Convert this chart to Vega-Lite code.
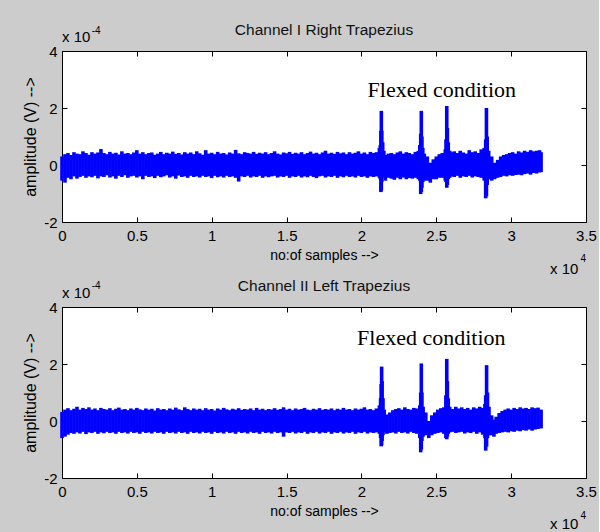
{
  "$schema": "https://vega.github.io/schema/vega-lite/v6.json",
  "background": "#cccccc",
  "padding": {"left": 22, "top": 22, "right": 2, "bottom": 2},
  "config": {
    "view": {"stroke": "#000000", "strokeWidth": 1, "fill": "#ffffff"},
    "font": "Liberation Sans",
    "axis": {"domain": false, "grid": false, "tickColor": "#000000", "tickSize": -5, "tickWidth": 1, "labelColor": "#000000", "labelFont": "Liberation Sans", "labelFontSize": 15, "titleFont": "Liberation Sans", "titleFontWeight": "normal", "titleColor": "#000000", "labelFlush": false, "labelOverlap": false, "labelBound": false}
  },
  "datasets": {
    "ch1": [
      {"x": 0, "hi": 0.30, "lo": -0.55}, {"x": 200, "hi": 0.38, "lo": -0.62}, {"x": 400, "hi": 0.42, "lo": -0.45}, {"x": 600, "hi": 0.35, "lo": -0.50},
      {"x": 800, "hi": 0.45, "lo": -0.40}, {"x": 1000, "hi": 0.40, "lo": -0.48}, {"x": 1200, "hi": 0.38, "lo": -0.42}, {"x": 1400, "hi": 0.48, "lo": -0.38},
      {"x": 1600, "hi": 0.42, "lo": -0.45}, {"x": 1800, "hi": 0.36, "lo": -0.40}, {"x": 2000, "hi": 0.45, "lo": -0.43}, {"x": 2200, "hi": 0.40, "lo": -0.38},
      {"x": 2400, "hi": 0.44, "lo": -0.47}, {"x": 2600, "hi": 0.56, "lo": -0.40}, {"x": 2800, "hi": 0.42, "lo": -0.42}, {"x": 3000, "hi": 0.38, "lo": -0.36},
      {"x": 3200, "hi": 0.46, "lo": -0.44}, {"x": 3400, "hi": 0.40, "lo": -0.40}, {"x": 3600, "hi": 0.43, "lo": -0.48}, {"x": 3800, "hi": 0.37, "lo": -0.38},
      {"x": 4000, "hi": 0.48, "lo": -0.42}, {"x": 4200, "hi": 0.40, "lo": -0.36}, {"x": 4400, "hi": 0.42, "lo": -0.45}, {"x": 4600, "hi": 0.38, "lo": -0.40},
      {"x": 4800, "hi": 0.44, "lo": -0.38}, {"x": 5000, "hi": 0.52, "lo": -0.44}, {"x": 5200, "hi": 0.40, "lo": -0.40}, {"x": 5400, "hi": 0.45, "lo": -0.50},
      {"x": 5600, "hi": 0.38, "lo": -0.38}, {"x": 5800, "hi": 0.42, "lo": -0.42}, {"x": 6000, "hi": 0.44, "lo": -0.40}, {"x": 6200, "hi": 0.36, "lo": -0.46},
      {"x": 6400, "hi": 0.40, "lo": -0.38}, {"x": 6600, "hi": 0.46, "lo": -0.43}, {"x": 6800, "hi": 0.38, "lo": -0.40}, {"x": 7000, "hi": 0.43, "lo": -0.36},
      {"x": 7200, "hi": 0.40, "lo": -0.44}, {"x": 7400, "hi": 0.47, "lo": -0.40}, {"x": 7600, "hi": 0.39, "lo": -0.48}, {"x": 7800, "hi": 0.42, "lo": -0.37},
      {"x": 8000, "hi": 0.37, "lo": -0.42}, {"x": 8200, "hi": 0.45, "lo": -0.40}, {"x": 8400, "hi": 0.40, "lo": -0.45}, {"x": 8600, "hi": 0.44, "lo": -0.38},
      {"x": 8800, "hi": 0.38, "lo": -0.42}, {"x": 9000, "hi": 0.48, "lo": -0.40}, {"x": 9200, "hi": 0.41, "lo": -0.44}, {"x": 9400, "hi": 0.36, "lo": -0.38},
      {"x": 9600, "hi": 0.52, "lo": -0.42}, {"x": 9800, "hi": 0.40, "lo": -0.40}, {"x": 10000, "hi": 0.43, "lo": -0.46}, {"x": 10200, "hi": 0.38, "lo": -0.38},
      {"x": 10400, "hi": 0.46, "lo": -0.43}, {"x": 10600, "hi": 0.40, "lo": -0.40}, {"x": 10800, "hi": 0.42, "lo": -0.44}, {"x": 11000, "hi": 0.37, "lo": -0.38},
      {"x": 11200, "hi": 0.44, "lo": -0.42}, {"x": 11400, "hi": 0.40, "lo": -0.40}, {"x": 11600, "hi": 0.53, "lo": -0.45}, {"x": 11800, "hi": 0.41, "lo": -0.58},
      {"x": 12000, "hi": 0.38, "lo": -0.40}, {"x": 12200, "hi": 0.45, "lo": -0.42}, {"x": 12400, "hi": 0.42, "lo": -0.38}, {"x": 12600, "hi": 0.40, "lo": -0.44},
      {"x": 12800, "hi": 0.46, "lo": -0.40}, {"x": 13000, "hi": 0.39, "lo": -0.42}, {"x": 13200, "hi": 0.43, "lo": -0.38}, {"x": 13400, "hi": 0.40, "lo": -0.45},
      {"x": 13600, "hi": 0.45, "lo": -0.40}, {"x": 13800, "hi": 0.38, "lo": -0.43}, {"x": 14000, "hi": 0.42, "lo": -0.40}, {"x": 14200, "hi": 0.48, "lo": -0.38},
      {"x": 14400, "hi": 0.40, "lo": -0.44}, {"x": 14600, "hi": 0.37, "lo": -0.40}, {"x": 14800, "hi": 0.44, "lo": -0.42}, {"x": 15000, "hi": 0.41, "lo": -0.38},
      {"x": 15200, "hi": 0.46, "lo": -0.45}, {"x": 15400, "hi": 0.39, "lo": -0.40}, {"x": 15600, "hi": 0.43, "lo": -0.42}, {"x": 15800, "hi": 0.40, "lo": -0.38},
      {"x": 16000, "hi": 0.45, "lo": -0.44}, {"x": 16200, "hi": 0.38, "lo": -0.40}, {"x": 16400, "hi": 0.42, "lo": -0.43}, {"x": 16600, "hi": 0.47, "lo": -0.38},
      {"x": 16800, "hi": 0.40, "lo": -0.42}, {"x": 17000, "hi": 0.43, "lo": -0.46}, {"x": 17200, "hi": 0.38, "lo": -0.40}, {"x": 17400, "hi": 0.44, "lo": -0.38},
      {"x": 17600, "hi": 0.50, "lo": -0.44}, {"x": 17800, "hi": 0.40, "lo": -0.40}, {"x": 18000, "hi": 0.43, "lo": -0.42}, {"x": 18200, "hi": 0.39, "lo": -0.38},
      {"x": 18400, "hi": 0.46, "lo": -0.45}, {"x": 18600, "hi": 0.41, "lo": -0.40}, {"x": 18800, "hi": 0.44, "lo": -0.43}, {"x": 19000, "hi": 0.38, "lo": -0.38},
      {"x": 19200, "hi": 0.45, "lo": -0.42}, {"x": 19400, "hi": 0.40, "lo": -0.40}, {"x": 19600, "hi": 0.43, "lo": -0.44}, {"x": 19800, "hi": 0.48, "lo": -0.38},
      {"x": 20000, "hi": 0.40, "lo": -0.42}, {"x": 20200, "hi": 0.44, "lo": -0.40}, {"x": 20400, "hi": 0.38, "lo": -0.45}, {"x": 20600, "hi": 0.46, "lo": -0.40},
      {"x": 20800, "hi": 0.42, "lo": -0.42}, {"x": 21000, "hi": 0.45, "lo": -0.40}, {"x": 21200, "hi": 0.60, "lo": -0.45},
      {"x": 21260, "hi": 0.70, "lo": -0.50}, {"x": 21300, "hi": 1.20, "lo": -0.95}, {"x": 21330, "hi": 1.90, "lo": -0.90}, {"x": 21360, "hi": 1.20, "lo": -0.60},
      {"x": 21420, "hi": 0.80, "lo": -0.40}, {"x": 21500, "hi": 0.50, "lo": -0.45},
      {"x": 21600, "hi": 0.35, "lo": -0.55}, {"x": 21800, "hi": 0.40, "lo": -0.45}, {"x": 22000, "hi": 0.42, "lo": -0.48}, {"x": 22200, "hi": 0.38, "lo": -0.52},
      {"x": 22400, "hi": 0.44, "lo": -0.45}, {"x": 22600, "hi": 0.48, "lo": -0.50}, {"x": 22800, "hi": 0.40, "lo": -0.44}, {"x": 23000, "hi": 0.45, "lo": -0.50},
      {"x": 23200, "hi": 0.42, "lo": -0.46}, {"x": 23400, "hi": 0.38, "lo": -0.48}, {"x": 23600, "hi": 0.46, "lo": -0.45}, {"x": 23800, "hi": 0.50, "lo": -0.50},
      {"x": 23900, "hi": 0.70, "lo": -0.55}, {"x": 23960, "hi": 1.10, "lo": -1.02}, {"x": 24000, "hi": 1.90, "lo": -0.95}, {"x": 24040, "hi": 1.00, "lo": -0.80},
      {"x": 24100, "hi": 0.60, "lo": -0.60}, {"x": 24200, "hi": 0.40, "lo": -0.55}, {"x": 24400, "hi": 0.30, "lo": -0.55}, {"x": 24600, "hi": 0.08, "lo": -0.62},
      {"x": 24800, "hi": 0.20, "lo": -0.50}, {"x": 25000, "hi": 0.30, "lo": -0.50}, {"x": 25200, "hi": 0.38, "lo": -0.45}, {"x": 25400, "hi": 0.42, "lo": -0.45},
      {"x": 25600, "hi": 0.55, "lo": -0.55}, {"x": 25650, "hi": 0.90, "lo": -0.60}, {"x": 25700, "hi": 2.07, "lo": -0.80}, {"x": 25740, "hi": 1.30, "lo": -0.70},
      {"x": 25800, "hi": 0.80, "lo": -0.50}, {"x": 25900, "hi": 0.50, "lo": -0.45}, {"x": 26000, "hi": 0.45, "lo": -0.40}, {"x": 26200, "hi": 0.48, "lo": -0.42},
      {"x": 26400, "hi": 0.42, "lo": -0.38}, {"x": 26600, "hi": 0.50, "lo": -0.45}, {"x": 26800, "hi": 0.44, "lo": -0.40}, {"x": 27000, "hi": 0.40, "lo": -0.42},
      {"x": 27200, "hi": 0.52, "lo": -0.38}, {"x": 27400, "hi": 0.45, "lo": -0.44}, {"x": 27600, "hi": 0.48, "lo": -0.40}, {"x": 27800, "hi": 0.42, "lo": -0.42},
      {"x": 28000, "hi": 0.55, "lo": -0.45}, {"x": 28200, "hi": 0.60, "lo": -0.55}, {"x": 28300, "hi": 0.90, "lo": -1.17}, {"x": 28350, "hi": 2.00, "lo": -1.10},
      {"x": 28400, "hi": 1.00, "lo": -0.70}, {"x": 28500, "hi": 0.50, "lo": -0.50}, {"x": 28700, "hi": 0.30, "lo": -0.55}, {"x": 28900, "hi": 0.08, "lo": -0.50},
      {"x": 29100, "hi": 0.18, "lo": -0.45}, {"x": 29300, "hi": 0.30, "lo": -0.42}, {"x": 29500, "hi": 0.35, "lo": -0.38}, {"x": 29700, "hi": 0.38, "lo": -0.40},
      {"x": 29900, "hi": 0.42, "lo": -0.36}, {"x": 30100, "hi": 0.45, "lo": -0.38}, {"x": 30300, "hi": 0.40, "lo": -0.35}, {"x": 30500, "hi": 0.48, "lo": -0.34},
      {"x": 30700, "hi": 0.44, "lo": -0.36}, {"x": 30900, "hi": 0.50, "lo": -0.32}, {"x": 31100, "hi": 0.46, "lo": -0.30}, {"x": 31300, "hi": 0.52, "lo": -0.34},
      {"x": 31500, "hi": 0.48, "lo": -0.28}, {"x": 31700, "hi": 0.50, "lo": -0.30}, {"x": 31900, "hi": 0.52, "lo": -0.26}, {"x": 32000, "hi": 0.45, "lo": -0.25}
    ],
    "ch2": [
      {"x": 0, "hi": 0.32, "lo": -0.60}, {"x": 200, "hi": 0.40, "lo": -0.55}, {"x": 400, "hi": 0.45, "lo": -0.48}, {"x": 600, "hi": 0.38, "lo": -0.42},
      {"x": 800, "hi": 0.43, "lo": -0.45}, {"x": 1000, "hi": 0.50, "lo": -0.40}, {"x": 1200, "hi": 0.40, "lo": -0.44}, {"x": 1400, "hi": 0.46, "lo": -0.38},
      {"x": 1600, "hi": 0.42, "lo": -0.46}, {"x": 1800, "hi": 0.48, "lo": -0.40}, {"x": 2000, "hi": 0.40, "lo": -0.42}, {"x": 2200, "hi": 0.44, "lo": -0.38},
      {"x": 2400, "hi": 0.38, "lo": -0.45}, {"x": 2600, "hi": 0.46, "lo": -0.40}, {"x": 2800, "hi": 0.42, "lo": -0.43}, {"x": 3000, "hi": 0.40, "lo": -0.38},
      {"x": 3200, "hi": 0.45, "lo": -0.42}, {"x": 3400, "hi": 0.38, "lo": -0.40}, {"x": 3600, "hi": 0.43, "lo": -0.45}, {"x": 3800, "hi": 0.47, "lo": -0.38},
      {"x": 4000, "hi": 0.40, "lo": -0.42}, {"x": 4200, "hi": 0.42, "lo": -0.40}, {"x": 4400, "hi": 0.38, "lo": -0.44}, {"x": 4600, "hi": 0.44, "lo": -0.38},
      {"x": 4800, "hi": 0.40, "lo": -0.42}, {"x": 5000, "hi": 0.46, "lo": -0.40}, {"x": 5200, "hi": 0.41, "lo": -0.45}, {"x": 5400, "hi": 0.38, "lo": -0.38},
      {"x": 5600, "hi": 0.44, "lo": -0.42}, {"x": 5800, "hi": 0.40, "lo": -0.40}, {"x": 6000, "hi": 0.43, "lo": -0.44}, {"x": 6200, "hi": 0.37, "lo": -0.38},
      {"x": 6400, "hi": 0.45, "lo": -0.42}, {"x": 6600, "hi": 0.40, "lo": -0.40}, {"x": 6800, "hi": 0.42, "lo": -0.45}, {"x": 7000, "hi": 0.38, "lo": -0.38},
      {"x": 7200, "hi": 0.44, "lo": -0.42}, {"x": 7400, "hi": 0.40, "lo": -0.40}, {"x": 7600, "hi": 0.47, "lo": -0.44}, {"x": 7800, "hi": 0.41, "lo": -0.38},
      {"x": 8000, "hi": 0.38, "lo": -0.42}, {"x": 8200, "hi": 0.48, "lo": -0.40}, {"x": 8400, "hi": 0.42, "lo": -0.45}, {"x": 8600, "hi": 0.38, "lo": -0.38},
      {"x": 8800, "hi": 0.44, "lo": -0.42}, {"x": 9000, "hi": 0.40, "lo": -0.40}, {"x": 9200, "hi": 0.43, "lo": -0.44}, {"x": 9400, "hi": 0.38, "lo": -0.38},
      {"x": 9600, "hi": 0.45, "lo": -0.42}, {"x": 9800, "hi": 0.40, "lo": -0.40}, {"x": 10000, "hi": 0.42, "lo": -0.45}, {"x": 10200, "hi": 0.37, "lo": -0.38},
      {"x": 10400, "hi": 0.44, "lo": -0.42}, {"x": 10600, "hi": 0.40, "lo": -0.40}, {"x": 10800, "hi": 0.46, "lo": -0.44}, {"x": 11000, "hi": 0.41, "lo": -0.38},
      {"x": 11200, "hi": 0.38, "lo": -0.42}, {"x": 11400, "hi": 0.43, "lo": -0.40}, {"x": 11600, "hi": 0.40, "lo": -0.45}, {"x": 11800, "hi": 0.45, "lo": -0.38},
      {"x": 12000, "hi": 0.39, "lo": -0.42}, {"x": 12200, "hi": 0.42, "lo": -0.40}, {"x": 12400, "hi": 0.40, "lo": -0.44}, {"x": 12600, "hi": 0.44, "lo": -0.38},
      {"x": 12800, "hi": 0.38, "lo": -0.42}, {"x": 13000, "hi": 0.46, "lo": -0.40}, {"x": 13200, "hi": 0.40, "lo": -0.45}, {"x": 13400, "hi": 0.43, "lo": -0.38},
      {"x": 13600, "hi": 0.38, "lo": -0.42}, {"x": 13800, "hi": 0.42, "lo": -0.40}, {"x": 14000, "hi": 0.40, "lo": -0.44}, {"x": 14200, "hi": 0.45, "lo": -0.38},
      {"x": 14400, "hi": 0.39, "lo": -0.42}, {"x": 14600, "hi": 0.42, "lo": -0.40}, {"x": 14800, "hi": 0.48, "lo": -0.55}, {"x": 15000, "hi": 0.40, "lo": -0.40},
      {"x": 15200, "hi": 0.43, "lo": -0.42}, {"x": 15400, "hi": 0.38, "lo": -0.38}, {"x": 15600, "hi": 0.44, "lo": -0.44}, {"x": 15800, "hi": 0.40, "lo": -0.40},
      {"x": 16000, "hi": 0.42, "lo": -0.42}, {"x": 16200, "hi": 0.46, "lo": -0.38}, {"x": 16400, "hi": 0.40, "lo": -0.45}, {"x": 16600, "hi": 0.38, "lo": -0.40},
      {"x": 16800, "hi": 0.43, "lo": -0.42}, {"x": 17000, "hi": 0.40, "lo": -0.38}, {"x": 17200, "hi": 0.45, "lo": -0.44}, {"x": 17400, "hi": 0.39, "lo": -0.40},
      {"x": 17600, "hi": 0.42, "lo": -0.42}, {"x": 17800, "hi": 0.40, "lo": -0.38}, {"x": 18000, "hi": 0.44, "lo": -0.45}, {"x": 18200, "hi": 0.38, "lo": -0.40},
      {"x": 18400, "hi": 0.43, "lo": -0.42}, {"x": 18600, "hi": 0.40, "lo": -0.38}, {"x": 18800, "hi": 0.46, "lo": -0.44}, {"x": 19000, "hi": 0.40, "lo": -0.40},
      {"x": 19200, "hi": 0.42, "lo": -0.42}, {"x": 19400, "hi": 0.38, "lo": -0.38}, {"x": 19600, "hi": 0.44, "lo": -0.45}, {"x": 19800, "hi": 0.40, "lo": -0.40},
      {"x": 20000, "hi": 0.43, "lo": -0.42}, {"x": 20200, "hi": 0.48, "lo": -0.38}, {"x": 20400, "hi": 0.40, "lo": -0.44}, {"x": 20600, "hi": 0.42, "lo": -0.40},
      {"x": 20800, "hi": 0.38, "lo": -0.42}, {"x": 21000, "hi": 0.44, "lo": -0.40}, {"x": 21200, "hi": 0.55, "lo": -0.45},
      {"x": 21280, "hi": 0.80, "lo": -0.60}, {"x": 21320, "hi": 1.30, "lo": -0.89}, {"x": 21350, "hi": 1.91, "lo": -0.85}, {"x": 21380, "hi": 1.40, "lo": -0.70},
      {"x": 21440, "hi": 0.80, "lo": -0.50}, {"x": 21520, "hi": 0.40, "lo": -0.40}, {"x": 21700, "hi": 0.23, "lo": -0.45}, {"x": 21900, "hi": 0.30, "lo": -0.42},
      {"x": 22100, "hi": 0.38, "lo": -0.40}, {"x": 22300, "hi": 0.42, "lo": -0.44}, {"x": 22500, "hi": 0.45, "lo": -0.38}, {"x": 22700, "hi": 0.40, "lo": -0.42},
      {"x": 22900, "hi": 0.48, "lo": -0.40}, {"x": 23100, "hi": 0.42, "lo": -0.44}, {"x": 23300, "hi": 0.40, "lo": -0.38}, {"x": 23500, "hi": 0.46, "lo": -0.42},
      {"x": 23700, "hi": 0.44, "lo": -0.45}, {"x": 23900, "hi": 0.55, "lo": -0.60}, {"x": 23960, "hi": 1.00, "lo": -1.10}, {"x": 24000, "hi": 2.02, "lo": -1.00},
      {"x": 24040, "hi": 1.00, "lo": -0.70}, {"x": 24120, "hi": 0.50, "lo": -0.55}, {"x": 24300, "hi": 0.30, "lo": -0.50}, {"x": 24500, "hi": 0.00, "lo": -0.60},
      {"x": 24700, "hi": 0.20, "lo": -0.50}, {"x": 24900, "hi": 0.30, "lo": -0.45}, {"x": 25100, "hi": 0.40, "lo": -0.42}, {"x": 25300, "hi": 0.45, "lo": -0.40},
      {"x": 25500, "hi": 0.48, "lo": -0.45}, {"x": 25640, "hi": 0.90, "lo": -0.60}, {"x": 25700, "hi": 2.18, "lo": -0.64}, {"x": 25740, "hi": 1.40, "lo": -0.55},
      {"x": 25800, "hi": 0.80, "lo": -0.45}, {"x": 25900, "hi": 0.50, "lo": -0.40}, {"x": 26100, "hi": 0.42, "lo": -0.38}, {"x": 26300, "hi": 0.50, "lo": -0.42},
      {"x": 26500, "hi": 0.44, "lo": -0.40}, {"x": 26700, "hi": 0.48, "lo": -0.38}, {"x": 26900, "hi": 0.42, "lo": -0.44}, {"x": 27100, "hi": 0.46, "lo": -0.40},
      {"x": 27300, "hi": 0.40, "lo": -0.42}, {"x": 27500, "hi": 0.48, "lo": -0.38}, {"x": 27700, "hi": 0.44, "lo": -0.45}, {"x": 27900, "hi": 0.50, "lo": -0.40},
      {"x": 28100, "hi": 0.46, "lo": -0.48}, {"x": 28250, "hi": 0.60, "lo": -0.60}, {"x": 28300, "hi": 0.90, "lo": -1.04}, {"x": 28360, "hi": 1.96, "lo": -0.90},
      {"x": 28420, "hi": 1.00, "lo": -0.60}, {"x": 28520, "hi": 0.50, "lo": -0.50}, {"x": 28700, "hi": 0.20, "lo": -0.50}, {"x": 28850, "hi": 0.05, "lo": -0.55},
      {"x": 29000, "hi": 0.15, "lo": -0.45}, {"x": 29200, "hi": 0.28, "lo": -0.42}, {"x": 29400, "hi": 0.35, "lo": -0.40}, {"x": 29600, "hi": 0.40, "lo": -0.38},
      {"x": 29800, "hi": 0.44, "lo": -0.40}, {"x": 30000, "hi": 0.40, "lo": -0.36}, {"x": 30200, "hi": 0.46, "lo": -0.38}, {"x": 30400, "hi": 0.42, "lo": -0.34},
      {"x": 30600, "hi": 0.48, "lo": -0.36}, {"x": 30800, "hi": 0.44, "lo": -0.32}, {"x": 31000, "hi": 0.46, "lo": -0.34}, {"x": 31200, "hi": 0.42, "lo": -0.30},
      {"x": 31400, "hi": 0.48, "lo": -0.34}, {"x": 31600, "hi": 0.45, "lo": -0.30}, {"x": 31800, "hi": 0.47, "lo": -0.28}, {"x": 32000, "hi": 0.40, "lo": -0.26}
    ]
  },
  "spacing": 85,
  "bounds": "flush",
  "vconcat": [
    {
      "width": 524, "height": 171,
      "title": {"text": "Channel I Right Trapezius", "fontSize": 15.5, "fontWeight": "normal", "font": "Liberation Sans", "color": "#111111", "offset": -13},
      "resolve": {"axis": {"x": "independent", "y": "independent"}},
      "layer": [
        {"data": {"name": "ch1"}, "mark": {"type": "rule", "color": "#0000ff", "strokeWidth": 3.6, "strokeCap": "butt"},
         "encoding": {
           "x": {"field": "x", "type": "quantitative", "scale": {"domain": [0, 35000], "nice": false}, "axis": {"orient": "bottom", "values": [0, 5000, 10000, 15000, 20000, 25000, 30000, 35000], "labelExpr": "datum.value / 10000", "labelPadding": 11, "title": "no:of samples -->", "titleFontSize": 14, "titlePadding": 5}},
           "y": {"field": "hi", "type": "quantitative", "scale": {"domain": [-2, 4], "nice": false}, "axis": {"orient": "left", "values": [-2, 0, 2, 4], "labelExpr": "'' + datum.value", "labelPadding": 10, "title": "amplitude (V) -->", "titleFontSize": 16, "titlePadding": 5}},
           "y2": {"field": "lo"}
         }},
        {"data": {"name": "ch1"}, "mark": {"type": "point", "opacity": 0},
         "encoding": {
           "x": {"field": "x", "type": "quantitative", "scale": {"domain": [0, 35000], "nice": false}, "axis": {"orient": "top", "values": [0, 5000, 10000, 15000, 20000, 25000, 30000, 35000], "labels": false, "title": null}},
           "y": {"field": "hi", "type": "quantitative", "scale": {"domain": [-2, 4], "nice": false}, "axis": {"orient": "right", "values": [-2, 0, 2, 4], "labels": false, "title": null}}
         }},
        {"data": {"values": [{"x": 25370, "y": 2.4, "label": "Flexed condition"}]},
         "mark": {"type": "text", "font": "Liberation Serif", "fontSize": 22, "align": "center", "baseline": "alphabetic", "color": "#000000"},
         "encoding": {"x": {"field": "x", "type": "quantitative", "axis": null, "scale": {"domain": [0, 35000], "nice": false}}, "y": {"field": "y", "type": "quantitative", "axis": null, "scale": {"domain": [-2, 4], "nice": false}}, "text": {"field": "label"}}},
        {"data": {"values": [{"x": 0, "y": 4.31, "label": "x 10"}, {"x": 32600, "y": -3.82, "label": "x 10"}]},
         "mark": {"type": "text", "font": "Liberation Sans", "fontSize": 15, "align": "left", "baseline": "alphabetic", "color": "#000000"},
         "encoding": {"x": {"field": "x", "type": "quantitative", "axis": null, "scale": {"domain": [0, 35000], "nice": false}}, "y": {"field": "y", "type": "quantitative", "axis": null, "scale": {"domain": [-2, 4], "nice": false}}, "text": {"field": "label"}}},
        {"data": {"values": [{"x": 1990, "y": 4.6, "label": "-4"}, {"x": 34625, "y": -3.4, "label": "4"}]},
         "mark": {"type": "text", "font": "Liberation Sans", "fontSize": 10, "align": "left", "baseline": "alphabetic", "color": "#000000"},
         "encoding": {"x": {"field": "x", "type": "quantitative", "axis": null, "scale": {"domain": [0, 35000], "nice": false}}, "y": {"field": "y", "type": "quantitative", "axis": null, "scale": {"domain": [-2, 4], "nice": false}}, "text": {"field": "label"}}}
      ]
    },
    {
      "width": 524, "height": 171,
      "title": {"text": "Channel II Left Trapezius", "fontSize": 15.5, "fontWeight": "normal", "font": "Liberation Sans", "color": "#111111", "offset": -13},
      "resolve": {"axis": {"x": "independent", "y": "independent"}},
      "layer": [
        {"data": {"name": "ch2"}, "mark": {"type": "rule", "color": "#0000ff", "strokeWidth": 3.6, "strokeCap": "butt"},
         "encoding": {
           "x": {"field": "x", "type": "quantitative", "scale": {"domain": [0, 35000], "nice": false}, "axis": {"orient": "bottom", "values": [0, 5000, 10000, 15000, 20000, 25000, 30000, 35000], "labelExpr": "datum.value / 10000", "labelPadding": 11, "title": "no:of samples -->", "titleFontSize": 14, "titlePadding": 5}},
           "y": {"field": "hi", "type": "quantitative", "scale": {"domain": [-2, 4], "nice": false}, "axis": {"orient": "left", "values": [-2, 0, 2, 4], "labelExpr": "'' + datum.value", "labelPadding": 10, "title": "amplitude (V) -->", "titleFontSize": 16, "titlePadding": 5}},
           "y2": {"field": "lo"}
         }},
        {"data": {"name": "ch2"}, "mark": {"type": "point", "opacity": 0},
         "encoding": {
           "x": {"field": "x", "type": "quantitative", "scale": {"domain": [0, 35000], "nice": false}, "axis": {"orient": "top", "values": [0, 5000, 10000, 15000, 20000, 25000, 30000, 35000], "labels": false, "title": null}},
           "y": {"field": "hi", "type": "quantitative", "scale": {"domain": [-2, 4], "nice": false}, "axis": {"orient": "right", "values": [-2, 0, 2, 4], "labels": false, "title": null}}
         }},
        {"data": {"values": [{"x": 24665, "y": 2.68, "label": "Flexed condition"}]},
         "mark": {"type": "text", "font": "Liberation Serif", "fontSize": 22, "align": "center", "baseline": "alphabetic", "color": "#000000"},
         "encoding": {"x": {"field": "x", "type": "quantitative", "axis": null, "scale": {"domain": [0, 35000], "nice": false}}, "y": {"field": "y", "type": "quantitative", "axis": null, "scale": {"domain": [-2, 4], "nice": false}}, "text": {"field": "label"}}},
        {"data": {"values": [{"x": 0, "y": 4.3, "label": "x 10"}, {"x": 32600, "y": -3.78, "label": "x 10"}]},
         "mark": {"type": "text", "font": "Liberation Sans", "fontSize": 15, "align": "left", "baseline": "alphabetic", "color": "#000000"},
         "encoding": {"x": {"field": "x", "type": "quantitative", "axis": null, "scale": {"domain": [0, 35000], "nice": false}}, "y": {"field": "y", "type": "quantitative", "axis": null, "scale": {"domain": [-2, 4], "nice": false}}, "text": {"field": "label"}}},
        {"data": {"values": [{"x": 1990, "y": 4.62, "label": "-4"}, {"x": 34625, "y": -3.43, "label": "4"}]},
         "mark": {"type": "text", "font": "Liberation Sans", "fontSize": 10, "align": "left", "baseline": "alphabetic", "color": "#000000"},
         "encoding": {"x": {"field": "x", "type": "quantitative", "axis": null, "scale": {"domain": [0, 35000], "nice": false}}, "y": {"field": "y", "type": "quantitative", "axis": null, "scale": {"domain": [-2, 4], "nice": false}}, "text": {"field": "label"}}}
      ]
    }
  ]
}
